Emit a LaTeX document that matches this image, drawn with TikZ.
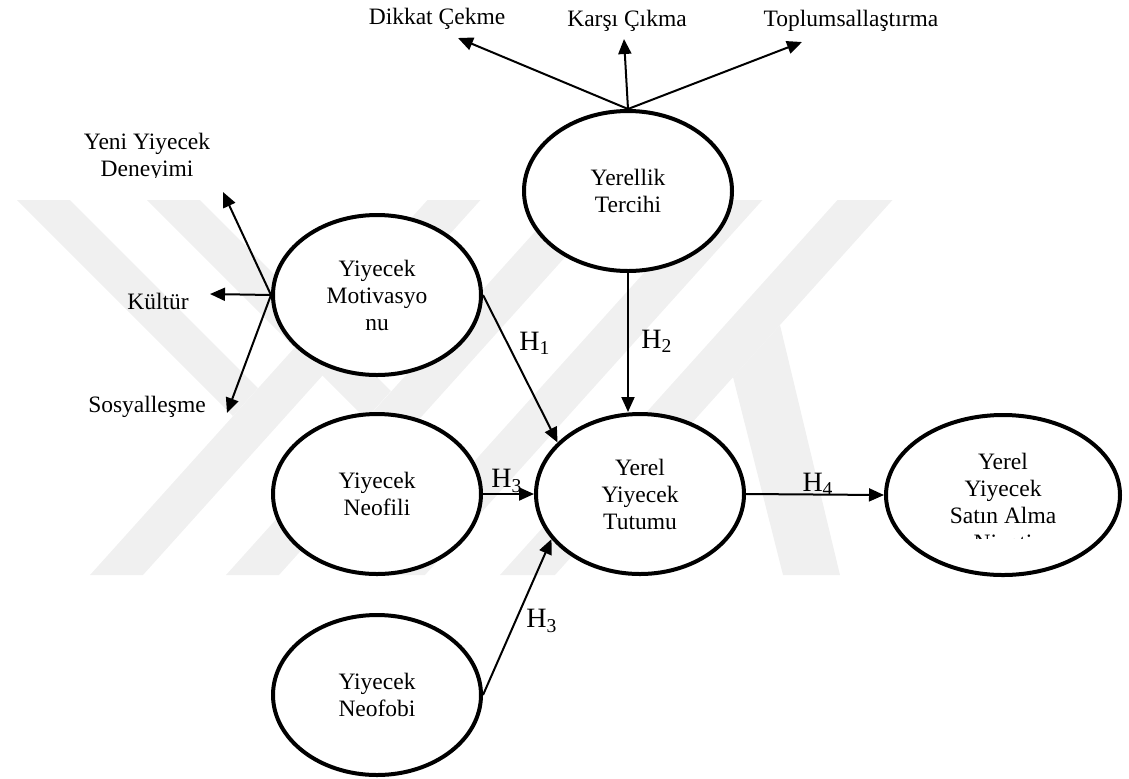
\documentclass[tikz,border=0pt]{standalone}
\usepackage{fontspec}
\setmainfont{Liberation Serif}
\usetikzlibrary{shapes.geometric,arrows.meta}

\begin{document}
\begin{tikzpicture}[x=0.5pt,y=-0.5pt,
    oval/.style={draw, fill=white, ellipse, line width=2pt, inner sep=0pt,
        minimum width=104pt, minimum height=80pt, align=center,
        font=\fontsize{11.75}{13.5}\selectfont},
    lbl/.style={align=center, font=\fontsize{11.75}{13.5}\selectfont},
    hyp/.style={font=\fontsize{14}{16}\selectfont},
    arr/.style={line width=1pt, -{Triangle[length=7.5pt,width=6.5pt]}},
    wm/.style={fill=black!6}]
\useasboundingbox (0,0) rectangle (1129,778);

\fill[wm] (90,575) -- (143,575) -- (480.5,200) -- (427.5,200) -- cycle;
\fill[wm] (226,575) -- (279,575) -- (616.5,200) -- (563.5,200) -- cycle;
\fill[wm] (372,575) -- (425,575) -- (762.5,200) -- (709.5,200) -- cycle;
\fill[wm] (500,575) -- (555,575) -- (892.5,200) -- (837.5,200) -- cycle;
\fill[wm] (17,200) -- (70,200) -- (258,388) -- (233,416) -- cycle;
\fill[wm] (147,200) -- (200,200) -- (391,391) -- (366,419) -- cycle;
\fill[wm] (733,377) -- (783,575) -- (840,575) -- (780,325) -- cycle;

\node[oval] (ter) at (628,191) {Yerellik\\Tercihi};
\node[oval] (mot) at (377,295) {Yiyecek\\Motivasyo\\nu};
\node[oval] (nfl) at (377,494) {Yiyecek\\Neofili};
\node[oval] (nfb) at (377,695) {Yiyecek\\Neofobi};
\node[oval] (tut) at (640,494) {Yerel\\Yiyecek\\Tutumu};
\node[oval, minimum width=117pt] (sat) at (1003,495) {};
\begin{scope}
    \clip (880,420) rectangle (1125,538);
    \node[lbl] (satText) at (1003,504) {Yerel\\Yiyecek\\Satın Alma\\Niyeti};
\end{scope}

\coordinate (dikkatTip) at (458,38);
\coordinate (karsiTip) at (624,39);
\coordinate (toplumTip) at (802,42);
\node[lbl] (dikkat) at (437,19) {Dikkat Çekme};
\node[lbl] (karsi) at (627,21) {Karşı Çıkma};
\node[lbl] (toplum) at (851,21) {Toplumsallaştırma};
\draw[arr] (ter.north) -- (dikkatTip);
\draw[arr] (ter.north) -- (karsiTip);
\draw[arr] (ter.north) -- (toplumTip);

\coordinate (yeniTip) at (223,192);
\coordinate (kulturTip) at (210,294);
\coordinate (sosyalTip) at (227,413);
\begin{scope}
    \clip (40,120) rectangle (260,177);
    \node[lbl] (yeni) at (147,157) {Yeni Yiyecek\\Deneyimi};
\end{scope}
\node[lbl] (kultur) at (158,301) {Kültür};
\node[lbl] (sosyal) at (147,407) {Sosyalleşme};
\draw[arr] (mot.west) -- (yeniTip);
\draw[arr] (mot.west) -- (kulturTip);
\draw[arr] (mot.west) -- (sosyalTip);

\draw[arr] (mot.east) -- (tut.148);
\draw[arr] (ter.south) -- (ter.south |- tut.north);
\draw[arr] (nfl.east) -- (tut.west);
\draw[arr] (nfb.east) -- (tut.207);
\draw[arr] (tut.east) -- (sat.west);

\node[hyp] (h1) at (535,343) {H\textsubscript{1}};
\node[hyp] (h2) at (657,341) {H\textsubscript{2}};
\node[hyp] (h3a) at (507,481) {H\textsubscript{3}};
\node[hyp] (h3b) at (542,621) {H\textsubscript{3}};
\node[hyp] (h4) at (818,484) {H\textsubscript{4}};
\end{tikzpicture}
\end{document}
